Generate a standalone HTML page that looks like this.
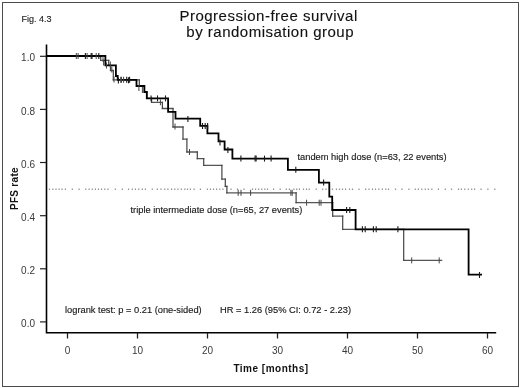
<!DOCTYPE html>
<html><head><meta charset="utf-8"><style>
html,body{margin:0;padding:0;background:#fff;}
svg{display:block;will-change:transform;}
text{font-family:"Liberation Sans",sans-serif;}
.lab{font-size:10px;fill:#3a3a3a;}
.fig{font-size:9px;fill:#222;stroke:#222;stroke-width:0.12px;}
.title{font-size:15px;fill:#111;letter-spacing:0.5px;stroke:#111;stroke-width:0.12px;}
.leg{font-size:9.3px;fill:#1a1a1a;stroke:#1a1a1a;stroke-width:0.15px;}
.axt{font-size:10px;font-weight:bold;fill:#111;letter-spacing:0.5px;}
.axt2{font-size:10px;font-weight:bold;fill:#111;letter-spacing:0.3px;}
</style></head><body>
<svg width="520" height="388" viewBox="0 0 520 388">
<rect width="520" height="388" fill="#fff"/>
<rect x="2.5" y="2.5" width="516" height="384" fill="none" stroke="#4d4d4d" stroke-width="1"/>
<g fill="#777"><rect x="48.90" y="188.6" width="1.2" height="1.2"/><rect x="52.30" y="188.6" width="1.2" height="1.2"/><rect x="55.40" y="188.6" width="1.2" height="1.2"/><rect x="58.50" y="188.6" width="1.2" height="1.2"/><rect x="61.40" y="188.6" width="1.2" height="1.2"/><rect x="64.80" y="188.6" width="1.2" height="1.2"/><rect x="71.70" y="188.6" width="1.2" height="1.2"/><rect x="78.50" y="188.6" width="1.2" height="1.2"/><rect x="85.20" y="188.6" width="1.2" height="1.2"/><rect x="88.50" y="188.6" width="1.2" height="1.2"/><rect x="91.70" y="188.6" width="1.2" height="1.2"/><rect x="94.80" y="188.6" width="1.2" height="1.2"/><rect x="97.90" y="188.6" width="1.2" height="1.2"/><rect x="101.00" y="188.6" width="1.2" height="1.2"/><rect x="104.20" y="188.6" width="1.2" height="1.2"/><rect x="107.30" y="188.6" width="1.2" height="1.2"/><rect x="114.80" y="188.6" width="1.2" height="1.2"/><rect x="121.70" y="188.6" width="1.2" height="1.2"/><rect x="127.90" y="188.6" width="1.2" height="1.2"/><rect x="131.70" y="188.6" width="1.2" height="1.2"/><rect x="134.80" y="188.6" width="1.2" height="1.2"/><rect x="138.20" y="188.6" width="1.2" height="1.2"/><rect x="141.70" y="188.6" width="1.2" height="1.2"/><rect x="144.80" y="188.6" width="1.2" height="1.2"/><rect x="151.70" y="188.6" width="1.2" height="1.2"/><rect x="156.70" y="188.6" width="1.2" height="1.2"/><rect x="160.40" y="188.6" width="1.2" height="1.2"/><rect x="164.20" y="188.6" width="1.2" height="1.2"/><rect x="167.30" y="188.6" width="1.2" height="1.2"/><rect x="171.00" y="188.6" width="1.2" height="1.2"/><rect x="174.20" y="188.6" width="1.2" height="1.2"/><rect x="177.30" y="188.6" width="1.2" height="1.2"/><rect x="180.70" y="188.6" width="1.2" height="1.2"/><rect x="184.20" y="188.6" width="1.2" height="1.2"/><rect x="186.90" y="188.6" width="1.2" height="1.2"/><rect x="189.80" y="188.6" width="1.2" height="1.2"/><rect x="193.50" y="188.6" width="1.2" height="1.2"/><rect x="199.80" y="188.6" width="1.2" height="1.2"/><rect x="206.70" y="188.6" width="1.2" height="1.2"/><rect x="209.80" y="188.6" width="1.2" height="1.2"/><rect x="212.90" y="188.6" width="1.2" height="1.2"/><rect x="216.00" y="188.6" width="1.2" height="1.2"/><rect x="219.20" y="188.6" width="1.2" height="1.2"/><rect x="222.30" y="188.6" width="1.2" height="1.2"/><rect x="230.40" y="188.6" width="1.2" height="1.2"/><rect x="236.90" y="188.6" width="1.2" height="1.2"/><rect x="243.40" y="188.6" width="1.2" height="1.2"/><rect x="251.90" y="188.6" width="1.2" height="1.2"/><rect x="255.00" y="188.6" width="1.2" height="1.2"/><rect x="258.10" y="188.6" width="1.2" height="1.2"/><rect x="261.20" y="188.6" width="1.2" height="1.2"/><rect x="264.20" y="188.6" width="1.2" height="1.2"/><rect x="266.90" y="188.6" width="1.2" height="1.2"/><rect x="273.00" y="188.6" width="1.2" height="1.2"/><rect x="279.60" y="188.6" width="1.2" height="1.2"/><rect x="285.70" y="188.6" width="1.2" height="1.2"/><rect x="288.80" y="188.6" width="1.2" height="1.2"/><rect x="293.40" y="188.6" width="1.2" height="1.2"/><rect x="296.10" y="188.6" width="1.2" height="1.2"/><rect x="298.80" y="188.6" width="1.2" height="1.2"/><rect x="302.90" y="188.6" width="1.2" height="1.2"/><rect x="305.90" y="188.6" width="1.2" height="1.2"/><rect x="308.60" y="188.6" width="1.2" height="1.2"/><rect x="315.60" y="188.6" width="1.2" height="1.2"/><rect x="322.10" y="188.6" width="1.2" height="1.2"/><rect x="325.40" y="188.6" width="1.2" height="1.2"/><rect x="331.90" y="188.6" width="1.2" height="1.2"/><rect x="335.80" y="188.6" width="1.2" height="1.2"/><rect x="338.90" y="188.6" width="1.2" height="1.2"/><rect x="341.90" y="188.6" width="1.2" height="1.2"/><rect x="345.00" y="188.6" width="1.2" height="1.2"/><rect x="348.90" y="188.6" width="1.2" height="1.2"/><rect x="351.90" y="188.6" width="1.2" height="1.2"/><rect x="358.40" y="188.6" width="1.2" height="1.2"/><rect x="365.00" y="188.6" width="1.2" height="1.2"/><rect x="368.40" y="188.6" width="1.2" height="1.2"/><rect x="371.90" y="188.6" width="1.2" height="1.2"/><rect x="374.90" y="188.6" width="1.2" height="1.2"/><rect x="378.30" y="188.6" width="1.2" height="1.2"/><rect x="381.80" y="188.6" width="1.2" height="1.2"/><rect x="385.20" y="188.6" width="1.2" height="1.2"/><rect x="387.90" y="188.6" width="1.2" height="1.2"/><rect x="394.90" y="188.6" width="1.2" height="1.2"/><rect x="401.40" y="188.6" width="1.2" height="1.2"/><rect x="408.30" y="188.6" width="1.2" height="1.2"/><rect x="414.70" y="188.6" width="1.2" height="1.2"/><rect x="417.80" y="188.6" width="1.2" height="1.2"/><rect x="421.20" y="188.6" width="1.2" height="1.2"/><rect x="424.70" y="188.6" width="1.2" height="1.2"/><rect x="427.80" y="188.6" width="1.2" height="1.2"/><rect x="431.20" y="188.6" width="1.2" height="1.2"/><rect x="437.80" y="188.6" width="1.2" height="1.2"/><rect x="444.70" y="188.6" width="1.2" height="1.2"/><rect x="450.90" y="188.6" width="1.2" height="1.2"/><rect x="457.90" y="188.6" width="1.2" height="1.2"/><rect x="460.70" y="188.6" width="1.2" height="1.2"/><rect x="464.20" y="188.6" width="1.2" height="1.2"/><rect x="467.70" y="188.6" width="1.2" height="1.2"/><rect x="471.10" y="188.6" width="1.2" height="1.2"/><rect x="474.00" y="188.6" width="1.2" height="1.2"/><rect x="480.40" y="188.6" width="1.2" height="1.2"/><rect x="487.30" y="188.6" width="1.2" height="1.2"/><rect x="494.20" y="188.6" width="1.2" height="1.2"/></g>
<path d="M46.5,56.0 H100.7 M100.7,60.3 H108.7 M108.7,65.4 H110.5 M110.5,70.5 H113.3 M113.3,79.8 H139.3 M139.3,86.0 H144.4 M144.4,92.0 H146.8 M146.8,98.4 H151.6 M151.6,102.3 H162.4 M162.4,108.5 H173.0 M173.0,127.0 H183.0 M183.0,139.1 H186.9 M186.9,152.0 H197.3 M197.3,158.7 H203.7 M203.7,165.3 H221.9 M221.9,179.1 H225.3 M225.3,186.3 H226.9 M226.9,192.8 H296.1 M296.1,202.7 H332.7 M332.7,216.2 H342.7 M342.7,229.4 H403.7 M403.7,260.4 H441.6" fill="none" stroke="#555" stroke-width="1.3" stroke-linecap="square"/>
<path d="M100.7,56.0 V60.3 M108.7,60.3 V65.4 M110.5,65.4 V70.5 M113.3,70.5 V79.8 M139.3,79.8 V86.0 M144.4,86.0 V92.0 M146.8,92.0 V98.4 M151.6,98.4 V102.3 M162.4,102.3 V108.5 M173.0,108.5 V127.0 M183.0,127.0 V139.1 M186.9,139.1 V152.0 M197.3,152.0 V158.7 M203.7,158.7 V165.3 M221.9,165.3 V179.1 M225.3,179.1 V186.3 M226.9,186.3 V192.8 M296.1,192.8 V202.7 M332.7,202.7 V216.2 M342.7,216.2 V229.4 M403.7,229.4 V260.4" fill="none" stroke="#444" stroke-width="1.2" stroke-linecap="square"/>
<path d="M46.5,56.0 L105.4,56.0 L105.4,65.4 L115.9,65.4 L115.9,76.0 L117.7,76.0 L117.7,79.8 L136.5,79.8 L136.5,86.0 L144.4,86.0 L144.4,92.0 L146.8,92.0 L146.8,98.4 L168.1,98.4 L168.1,111.8 L175.5,111.8 L175.5,118.6 L200.2,118.6 L200.2,125.8 L207.4,125.8 L207.4,133.3 L218.5,133.3 L218.5,141.4 L224.6,141.4 L224.6,149.5 L232.4,149.5 L232.4,158.6 L287.9,158.6 L287.9,169.8 L318.9,169.8 L318.9,182.6 L329.3,182.6 L329.3,196.6 L332.2,196.6 L332.2,210.0 L355.6,210.0 L355.6,229.3 L468.6,229.3 L468.6,274.6 L482.0,274.6" fill="none" stroke="#000" stroke-width="1.8" stroke-linejoin="miter" stroke-linecap="butt"/>
<line x1="76.3" y1="53" x2="76.3" y2="59" stroke="#444" stroke-width="1.0"/><line x1="78.1" y1="53" x2="78.1" y2="59" stroke="#444" stroke-width="1.0"/><line x1="85.4" y1="53" x2="85.4" y2="59" stroke="#1a1a1a" stroke-width="1.1"/><line x1="87.1" y1="53" x2="87.1" y2="59" stroke="#444" stroke-width="1.0"/><line x1="91.2" y1="53" x2="91.2" y2="59" stroke="#1a1a1a" stroke-width="1.1"/><line x1="92.0" y1="53" x2="92.0" y2="59" stroke="#1a1a1a" stroke-width="1.1"/><line x1="96.2" y1="53" x2="96.2" y2="59" stroke="#444" stroke-width="1.0"/><line x1="98.8" y1="53" x2="98.8" y2="59" stroke="#1a1a1a" stroke-width="1.1"/><line x1="103" y1="56" x2="103" y2="62" stroke="#444" stroke-width="1.0"/><line x1="103.6" y1="59.5" x2="103.6" y2="65.5" stroke="#444" stroke-width="1.0"/><line x1="106.5" y1="62.5" x2="106.5" y2="68.5" stroke="#444" stroke-width="1.0"/><line x1="110.3" y1="61.5" x2="110.3" y2="67.5" stroke="#444" stroke-width="1.0"/><line x1="111.8" y1="66.5" x2="111.8" y2="72.5" stroke="#444" stroke-width="1.0"/><line x1="114" y1="76.5" x2="114" y2="82.5" stroke="#444" stroke-width="1.0"/><line x1="118.4" y1="77.5" x2="118.4" y2="83.5" stroke="#1a1a1a" stroke-width="1.1"/><line x1="120.7" y1="76.8" x2="120.7" y2="82.8" stroke="#444" stroke-width="1.0"/><line x1="121.5" y1="76.8" x2="121.5" y2="82.8" stroke="#444" stroke-width="1.0"/><line x1="123.6" y1="76.8" x2="123.6" y2="82.8" stroke="#444" stroke-width="1.0"/><line x1="126.7" y1="76.8" x2="126.7" y2="82.8" stroke="#1a1a1a" stroke-width="1.1"/><line x1="128.5" y1="77.3" x2="128.5" y2="83.3" stroke="#1a1a1a" stroke-width="1.1"/><line x1="129.6" y1="76.8" x2="129.6" y2="82.8" stroke="#1a1a1a" stroke-width="1.1"/><line x1="138.9" y1="85" x2="138.9" y2="91" stroke="#444" stroke-width="1.0"/><line x1="142.4" y1="87" x2="142.4" y2="93" stroke="#444" stroke-width="1.0"/><line x1="151.1" y1="95.4" x2="151.1" y2="101.4" stroke="#1a1a1a" stroke-width="1.1"/><line x1="157.5" y1="95.4" x2="157.5" y2="101.4" stroke="#1a1a1a" stroke-width="1.1"/><line x1="165.5" y1="95.4" x2="165.5" y2="101.4" stroke="#1a1a1a" stroke-width="1.1"/><line x1="160.4" y1="99.3" x2="160.4" y2="105.3" stroke="#444" stroke-width="1.0"/><line x1="175" y1="123.5" x2="175" y2="129.5" stroke="#444" stroke-width="1.0"/><line x1="187.9" y1="116" x2="187.9" y2="122" stroke="#1a1a1a" stroke-width="1.1"/><line x1="202.5" y1="123" x2="202.5" y2="129" stroke="#1a1a1a" stroke-width="1.1"/><line x1="205.2" y1="123" x2="205.2" y2="129" stroke="#1a1a1a" stroke-width="1.1"/><line x1="207.6" y1="123" x2="207.6" y2="129" stroke="#1a1a1a" stroke-width="1.1"/><line x1="220" y1="139.5" x2="220" y2="145.5" stroke="#1a1a1a" stroke-width="1.1"/><line x1="227.9" y1="147" x2="227.9" y2="153" stroke="#1a1a1a" stroke-width="1.1"/><line x1="189.5" y1="149" x2="189.5" y2="155" stroke="#444" stroke-width="1.0"/><line x1="240.9" y1="155.6" x2="240.9" y2="161.6" stroke="#1a1a1a" stroke-width="1.1"/><line x1="255.1" y1="155.6" x2="255.1" y2="161.6" stroke="#1a1a1a" stroke-width="1.1"/><line x1="256.1" y1="155.6" x2="256.1" y2="161.6" stroke="#1a1a1a" stroke-width="1.1"/><line x1="264.5" y1="155.6" x2="264.5" y2="161.6" stroke="#1a1a1a" stroke-width="1.1"/><line x1="271.1" y1="155.6" x2="271.1" y2="161.6" stroke="#1a1a1a" stroke-width="1.1"/><line x1="295.8" y1="166.8" x2="295.8" y2="172.8" stroke="#1a1a1a" stroke-width="1.1"/><line x1="323.6" y1="179.6" x2="323.6" y2="185.6" stroke="#1a1a1a" stroke-width="1.1"/><line x1="346.6" y1="207" x2="346.6" y2="213" stroke="#1a1a1a" stroke-width="1.1"/><line x1="349.8" y1="207" x2="349.8" y2="213" stroke="#1a1a1a" stroke-width="1.1"/><line x1="362.4" y1="226.3" x2="362.4" y2="232.3" stroke="#1a1a1a" stroke-width="1.1"/><line x1="365.2" y1="226.3" x2="365.2" y2="232.3" stroke="#1a1a1a" stroke-width="1.1"/><line x1="373.4" y1="226.3" x2="373.4" y2="232.3" stroke="#1a1a1a" stroke-width="1.1"/><line x1="376.2" y1="226.3" x2="376.2" y2="232.3" stroke="#1a1a1a" stroke-width="1.1"/><line x1="397.9" y1="226.3" x2="397.9" y2="232.3" stroke="#1a1a1a" stroke-width="1.1"/><line x1="479.5" y1="272" x2="479.5" y2="278" stroke="#1a1a1a" stroke-width="1.1"/><line x1="238.2" y1="189.8" x2="238.2" y2="195.8" stroke="#444" stroke-width="1.0"/><line x1="241" y1="189.8" x2="241" y2="195.8" stroke="#444" stroke-width="1.0"/><line x1="250.6" y1="189.8" x2="250.6" y2="195.8" stroke="#444" stroke-width="1.0"/><line x1="290.9" y1="189.8" x2="290.9" y2="195.8" stroke="#444" stroke-width="1.0"/><line x1="292.2" y1="189.8" x2="292.2" y2="195.8" stroke="#444" stroke-width="1.0"/><line x1="306.6" y1="199.7" x2="306.6" y2="205.7" stroke="#444" stroke-width="1.0"/><line x1="319.2" y1="199.7" x2="319.2" y2="205.7" stroke="#444" stroke-width="1.0"/><line x1="321" y1="199.7" x2="321" y2="205.7" stroke="#444" stroke-width="1.0"/><line x1="411.7" y1="257.4" x2="411.7" y2="263.4" stroke="#444" stroke-width="1.0"/><line x1="439.2" y1="257.4" x2="439.2" y2="263.4" stroke="#444" stroke-width="1.0"/>
<path d="M46.5,44.6 L46.5,332.7 L496.2,332.7" fill="none" stroke="#000" stroke-width="1.6"/>
<line x1="40" y1="56.3" x2="46" y2="56.3" stroke="#222" stroke-width="1.2"/>
<text x="35" y="61.3" text-anchor="end" class="lab">1.0</text>
<line x1="40" y1="109.4" x2="46" y2="109.4" stroke="#222" stroke-width="1.2"/>
<text x="35" y="115.3" text-anchor="end" class="lab">0.8</text>
<line x1="40" y1="162.5" x2="46" y2="162.5" stroke="#222" stroke-width="1.2"/>
<text x="35" y="168.3" text-anchor="end" class="lab">0.6</text>
<line x1="40" y1="215.7" x2="46" y2="215.7" stroke="#222" stroke-width="1.2"/>
<text x="35" y="221.3" text-anchor="end" class="lab">0.4</text>
<line x1="40" y1="268.8" x2="46" y2="268.8" stroke="#222" stroke-width="1.2"/>
<text x="35" y="274.3" text-anchor="end" class="lab">0.2</text>
<line x1="40" y1="321.9" x2="46" y2="321.9" stroke="#222" stroke-width="1.2"/>
<text x="35" y="327.3" text-anchor="end" class="lab">0.0</text>
<line x1="67.5" y1="333" x2="67.5" y2="338.5" stroke="#222" stroke-width="1.3"/>
<text x="67.5" y="354.3" text-anchor="middle" class="lab">0</text>
<line x1="137.5" y1="333" x2="137.5" y2="338.5" stroke="#222" stroke-width="1.3"/>
<text x="137.5" y="354.3" text-anchor="middle" class="lab">10</text>
<line x1="207.5" y1="333" x2="207.5" y2="338.5" stroke="#222" stroke-width="1.3"/>
<text x="207.5" y="354.3" text-anchor="middle" class="lab">20</text>
<line x1="277.5" y1="333" x2="277.5" y2="338.5" stroke="#222" stroke-width="1.3"/>
<text x="277.5" y="354.3" text-anchor="middle" class="lab">30</text>
<line x1="347.5" y1="333" x2="347.5" y2="338.5" stroke="#222" stroke-width="1.3"/>
<text x="347.5" y="354.3" text-anchor="middle" class="lab">40</text>
<line x1="417.5" y1="333" x2="417.5" y2="338.5" stroke="#222" stroke-width="1.3"/>
<text x="417.5" y="354.3" text-anchor="middle" class="lab">50</text>
<line x1="487.5" y1="333" x2="487.5" y2="338.5" stroke="#222" stroke-width="1.3"/>
<text x="487.5" y="354.3" text-anchor="middle" class="lab">60</text>
<text x="21.5" y="21.7" class="fig">Fig. 4.3</text>
<text x="179.4" y="20.8" class="title">Progression-free survival</text>
<text x="186.3" y="37" class="title">by randomisation group</text>
<text x="297.5" y="160" class="leg">tandem high dose (n=63, 22 events)</text>
<text x="130.5" y="213.1" class="leg">triple intermediate dose (n=65, 27 events)</text>
<text x="65" y="312.9" class="leg">logrank test: p = 0.21 (one-sided)</text>
<text x="220" y="312.9" class="leg">HR = 1.26 (95% CI: 0.72 - 2.23)</text>
<text x="271" y="371.8" text-anchor="middle" class="axt">Time [months]</text>
<text transform="translate(17.9,188.6) rotate(-90)" text-anchor="middle" class="axt2">PFS rate</text>
</svg>
</body></html>
